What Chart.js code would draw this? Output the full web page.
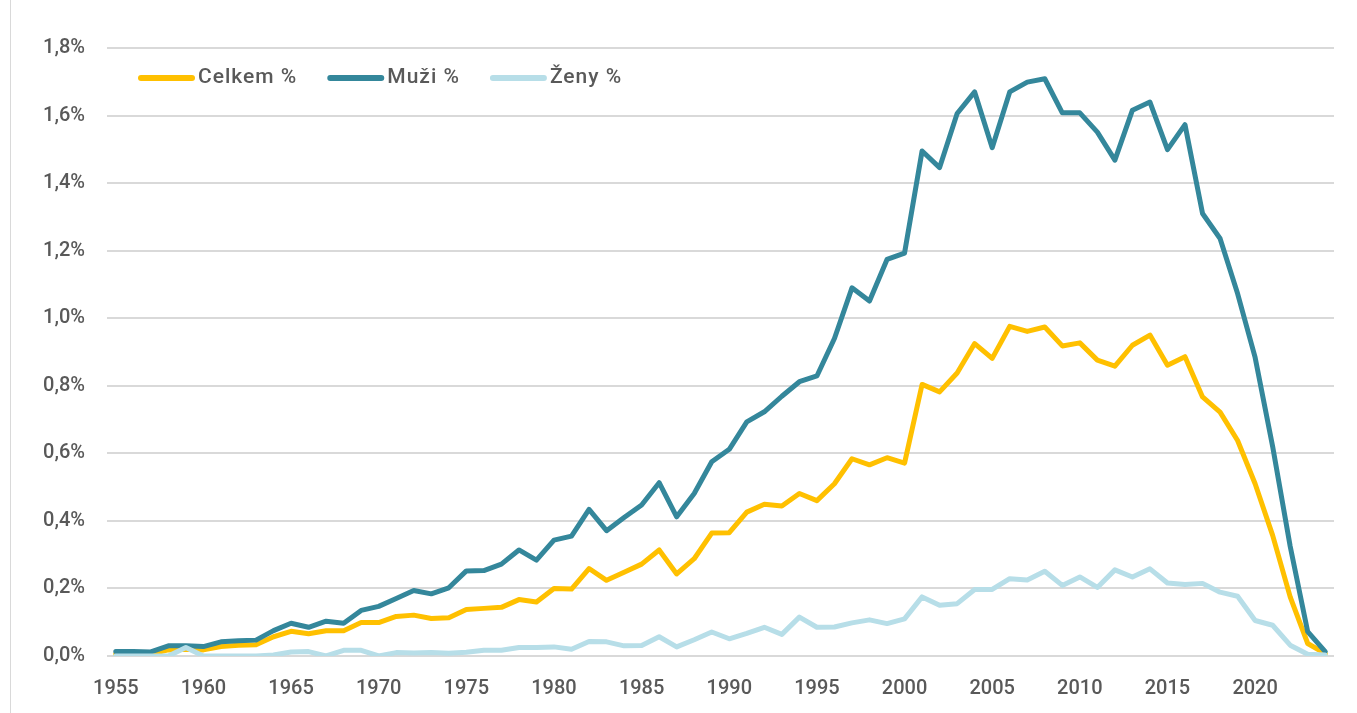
<!DOCTYPE html>
<html lang="cs">
<head>
<meta charset="utf-8">
<title>Celkem / Muži / Ženy %</title>
<script src="https://cdn.jsdelivr.net/npm/chart.js@4/dist/chart.umd.min.js"></script>
<style>
  html, body { margin: 0; padding: 0; background: #fff; }
  #wrap { position: relative; width: 1357px; height: 713px; }
  #wrap::before { content: ""; position: absolute; left: 10px; top: 0; bottom: 0; border-left: 1px solid #d9d9d9; }
</style>
</head>
<body>
<div id="wrap">
  <canvas id="chart" width="1357" height="713"></canvas>
</div>
<script>
// -------------------------
// DATA
// -------------------------

const years = [];
for (let y = 1955; y <= 2024; y++) years.push(String(y));

const celkem = [
  0.006, 0.006, 0.006, 0.018, 0.020, 0.018, 0.028, 0.032, 0.033, 0.057,
  0.073, 0.066, 0.075, 0.075, 0.099, 0.099, 0.117, 0.121, 0.111, 0.113,
  0.138, 0.141, 0.144, 0.167, 0.160, 0.200, 0.198, 0.259, 0.224, 0.248,
  0.272, 0.314, 0.243, 0.288, 0.364, 0.365, 0.426, 0.449, 0.444, 0.481,
  0.460, 0.510, 0.584, 0.566, 0.587, 0.571, 0.804, 0.782, 0.838, 0.925,
  0.881, 0.976, 0.961, 0.974, 0.918, 0.927, 0.876, 0.858, 0.920, 0.950,
  0.861, 0.886, 0.767, 0.722, 0.638, 0.510, 0.357, 0.175, 0.037, 0.007
];

const muzi = [
  0.013, 0.013, 0.012, 0.030, 0.030, 0.028, 0.042, 0.045, 0.047, 0.075,
  0.097, 0.085, 0.103, 0.097, 0.135, 0.147, 0.170, 0.194, 0.184, 0.202,
  0.252, 0.253, 0.272, 0.314, 0.284, 0.343, 0.355, 0.434, 0.371, 0.410,
  0.447, 0.513, 0.412, 0.481, 0.575, 0.612, 0.693, 0.723, 0.769, 0.812,
  0.829, 0.940, 1.090, 1.051, 1.174, 1.193, 1.495, 1.446, 1.606, 1.670,
  1.505, 1.670, 1.699, 1.709, 1.608, 1.608, 1.551, 1.468, 1.616, 1.640,
  1.499, 1.573, 1.310, 1.236, 1.073, 0.884, 0.620, 0.325, 0.072, 0.013
];

const zeny = [
  0.000, 0.000, 0.000, 0.000, 0.025, 0.000, 0.000, 0.000, 0.000, 0.003,
  0.012, 0.013, 0.000, 0.017, 0.017, 0.000, 0.010, 0.009, 0.010, 0.008,
  0.011, 0.017, 0.017, 0.025, 0.025, 0.027, 0.020, 0.043, 0.042, 0.030,
  0.031, 0.057, 0.027, 0.048, 0.071, 0.051, 0.067, 0.085, 0.064, 0.115,
  0.085, 0.086, 0.098, 0.107, 0.096, 0.110, 0.175, 0.150, 0.155, 0.197,
  0.197, 0.229, 0.225, 0.251, 0.209, 0.234, 0.203, 0.255, 0.234, 0.258,
  0.216, 0.212, 0.215, 0.189, 0.177, 0.105, 0.091, 0.032, 0.005, 0.003
];

const seriesNames = ["Celkem %", "Muži %", "Ženy %"];
const yTicks = [0, 0.2, 0.4, 0.6, 0.8, 1.0, 1.2, 1.4, 1.6, 1.8];

// -------------------------
// STYLE
// -------------------------

const TEXT = "#595959";
const GRID = "#d9d9d9";
const FONT = "Roboto";

// legend drawn inside the plot, top left (like the Excel chart)
const inlineLegend = {
    id: "inlineLegend",
    afterDraw(chart) {
        const ctx = chart.ctx;
        let x = chart.chartArea.left + 31;
        const y = 78;
        ctx.save();
        ctx.font = "500 21px " + FONT;
        if ("letterSpacing" in ctx) ctx.letterSpacing = "1px";
        ctx.textBaseline = "middle";
        chart.data.datasets.forEach(ds => {
            ctx.strokeStyle = ds.borderColor;
            ctx.lineWidth = 6;
            ctx.lineCap = "round";
            ctx.beginPath();
            ctx.moveTo(x + 3, y);
            ctx.lineTo(x + 54, y);
            ctx.stroke();
            ctx.fillStyle = TEXT;
            ctx.fillText(ds.label, x + 60, y);
            x += 60 + ctx.measureText(ds.label).width + 30;
        });
        ctx.restore();
    }
};

function lineSet(label, data, color, order) {
    return {
        label: label,
        data: data,
        borderColor: color,
        backgroundColor: color,
        borderWidth: 5,
        borderJoinStyle: "round",
        borderCapStyle: "round",
        pointRadius: 0,
        tension: 0,
        order: order
    };
}

// -------------------------
// CHART
// -------------------------

new Chart(document.getElementById("chart"), {
    type: "line",
    data: {
        labels: years,
        datasets: [
            lineSet(seriesNames[0], celkem, "#ffc000", 3),
            lineSet(seriesNames[1], muzi, "#34879b", 2),
            lineSet(seriesNames[2], zeny, "#b7dee8", 1)
        ]
    },
    options: {
        responsive: false,
        animation: false,
        layout: { padding: { left: 0, right: 23, top: 48, bottom: 0 } },
        plugins: {
            legend: { display: false },
            tooltip: { enabled: false }
        },
        scales: {
            x: {
                type: "category",
                offset: true,
                grid: { display: false, drawTicks: false },
                border: { display: false },
                ticks: {
                    autoSkip: false,
                    maxRotation: 0,
                    padding: 21,
                    color: TEXT,
                    font: { family: FONT, size: 20, weight: "500" },
                    callback: function (v, i) {
                        const yr = years[i];
                        return Number(yr) % 5 === 0 ? yr : "";
                    }
                },
                afterFit: s => { s.height = 57; }
            },
            y: {
                min: 0,
                max: 1.8,
                grid: { color: GRID, lineWidth: 2, drawTicks: false },
                border: { display: false },
                afterBuildTicks: s => { s.ticks = yTicks.map(v => ({ value: v })); },
                ticks: {
                    padding: 22,
                    color: TEXT,
                    font: { family: FONT, size: 20, weight: "500" },
                    callback: v => v.toFixed(1).replace(".", ",") + "%"
                },
                afterFit: s => { s.width = 107; }
            }
        }
    },
    plugins: [inlineLegend]
});
</script>
</body>
</html>
